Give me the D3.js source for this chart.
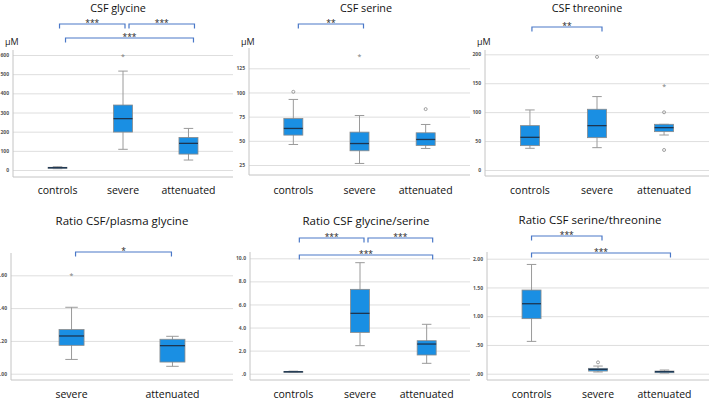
<html>
<head>
<script src="https://cdn.jsdelivr.net/npm/d3@7"></script>
<style>
body { margin: 0; background: white; }
text { font-family: "Open Sans", sans-serif; }
.gridlines line { stroke: #dedede; }
.gridlines .domain { stroke: none; }
.gridlines text { font-size: 5px; fill: #555; font-weight: bold; }
</style>
</head>
<body>
<svg id="chart" width="709" height="400"></svg>
<script>

// categories
const cats3 = ["controls", "severe", "attenuated"];
const cats2 = ["severe", "attenuated"];

// box stats per group: [min, q1, median, q3, max]
const glycineBoxes = [[7, 9, 12, 14, 17], [108, 198, 268, 339, 516], [52, 83, 139, 170, 217]];
const glycineOutliers = [["severe", 600, "*"]];
const glycineTicks = [0, 100, 200, 300, 400, 500, 600];

const serineBoxes = [[46.2, 55.9, 62.8, 73.1, 92.8], [26.6, 39.7, 47.2, 59, 76.2], [42.1, 45.2, 51.4, 58.3, 66.9]];
const serineOutliers = [["controls", 100.7, "o"], ["severe", 138.6, "*"], ["attenuated", 82.8, "o"]];
const serineTicks = [25, 50, 75, 100, 125];

const threonineBoxes = [[37.5, 42.1, 56.5, 76.7, 103.8], [38.6, 55.9, 76.7, 105, 126.9], [60.5, 66.3, 73.2, 79, 79]];
const threonineOutliers = [["severe", 195.5, "o"], ["attenuated", 145.3, "*"], ["attenuated", 99.8, "o"], ["attenuated", 34.6, "o"]];
const threonineTicks = [0, 50, 100, 150, 200];

const plasmaBoxes = [[0.087, 0.173, 0.23, 0.269, 0.405], [0.045, 0.071, 0.171, 0.21, 0.228]];
const plasmaOutliers = [["severe", 0.604, "*"]];
const plasmaTicks = [0, 0.2, 0.4, 0.6];

const glySerBoxes = [[0.12, 0.15, 0.17, 0.2, 0.22], [2.43, 3.58, 5.23, 7.31, 9.62], [0.9, 1.62, 2.57, 2.86, 4.28]];
const glySerOutliers = [];
const glySerTicks = [0, 2, 4, 6, 8, 10];

const serThrBoxes = [[0.562, 0.957, 1.217, 1.455, 1.9], [0.03, 0.046, 0.075, 0.093, 0.133], [0.012, 0.017, 0.035, 0.046, 0.064]];
const serThrOutliers = [["severe", 0.197, "o"]];
const serThrTicks = [0, 0.5, 1, 1.5, 2];

// significance brackets: [from, to, label]
const glycineSig = [["controls", "severe", "***"], ["severe", "attenuated", "***"], ["controls", "attenuated", "***"]];
const serineSig = [["controls", "severe", "**"]];
const threonineSig = [["controls", "severe", "**"]];
const plasmaSig = [["severe", "attenuated", "*"]];
const glySerSig = [["controls", "severe", "***"], ["severe", "attenuated", "***"], ["controls", "attenuated", "***"]];
const serThrSig = [["controls", "severe", "***"], ["controls", "attenuated", "***"]];

const noLead = f => d => d3.format(f)(d).replace(/^0\./, ".");

const panels = [
  {title: "CSF glycine", cats: cats3, boxes: glycineBoxes, outliers: glycineOutliers, ticks: glycineTicks, sig: glycineSig,
   fmt: d3.format("d"), unit: true, left: 13, right: 233, range: [170, 55], axisTop: 50, axisBottom: 177,
   titleX: 118, titleY: 11.5, catY: 194, pad: 0.68, sigY: [24, 24, 38], sigDx: [[2, 2], [6, 6], [8, 5]], boxW: 19},
  {title: "CSF serine", cats: cats3, boxes: serineBoxes, outliers: serineOutliers, ticks: serineTicks, sig: serineSig,
   fmt: d3.format("d"), unit: true, left: 249, right: 470, range: [165, 68.3], axisTop: 48, axisBottom: 175,
   titleX: 366, titleY: 11.5, catY: 194, pad: 0.67, sigY: [24], sigDx: [[5, 4]], boxW: 19},
  {title: "CSF threonine", cats: cats3, boxes: threonineBoxes, outliers: threonineOutliers, ticks: threonineTicks, sig: threonineSig,
   fmt: d3.format("d"), unit: true, left: 485, right: 709, range: [170, 54.3], axisTop: 50, axisBottom: 176,
   titleX: 587, titleY: 12, catY: 194, pad: 0.67, sigY: [27], sigDx: [[2, 5]], boxW: 19},
  {title: "Ratio CSF/plasma glycine", cats: cats2, boxes: plasmaBoxes, outliers: plasmaOutliers, ticks: plasmaTicks, sig: plasmaSig,
   fmt: noLead(".2f"), unit: false, left: 11, right: 233, range: [373.7, 275.3], axisTop: 253, axisBottom: 380,
   titleX: 122, titleY: 224.5, catY: 398, pad: 0.6, sigY: [252], sigDx: [[4, -1]], boxW: 25},
  {title: "Ratio CSF glycine/serine", cats: cats3, boxes: glySerBoxes, outliers: glySerOutliers, ticks: glySerTicks, sig: glySerSig,
   fmt: noLead(".1f"), unit: false, left: 250, right: 470, range: [373.7, 258.3], axisTop: 252, axisBottom: 380,
   titleX: 366, titleY: 224.5, catY: 398, pad: 0.65, sigY: [238, 238, 255], sigDx: [[6, 4], [8, 6], [6, 6]], boxW: 19},
  {title: "Ratio CSF serine/threonine", cats: cats3, boxes: serThrBoxes, outliers: serThrOutliers, ticks: serThrTicks, sig: serThrSig,
   fmt: noLead(".2f"), unit: false, left: 487, right: 709, range: [373.7, 258.7], axisTop: 252, axisBottom: 380,
   titleX: 590, titleY: 224, catY: 398, pad: 0.67, sigY: [236, 253], sigDx: [[0, 4], [0, 6]], boxW: 19}
];

const svg = d3.select("svg#chart");

panels.forEach(p => {
  const g = svg.append("g");

  const y = d3.scaleLinear().domain([p.ticks[0], p.ticks[p.ticks.length - 1]]).range(p.range);
  const x = d3.scalePoint().domain(p.cats).range([p.left, p.right]).padding(p.pad);

  //gridlines with tick labels
  const grid = d3.axisLeft(y).tickValues(p.ticks).tickFormat(p.fmt)
                 .tickSize(-(p.right - p.left)).tickPadding(4);
  g.append("g").attr("class", "gridlines")
     .attr("transform", `translate(${p.left},0)`)
     .call(grid);

  //axis lines
  g.append("line").attr("x1", p.left).attr("x2", p.left)
     .attr("y1", p.axisTop).attr("y2", p.axisBottom)
     .attr("stroke", "#c4c4c4");
  g.append("line").attr("x1", p.left).attr("x2", p.right)
     .attr("y1", p.axisBottom).attr("y2", p.axisBottom)
     .attr("stroke", "#c4c4c4");

  //title, unit and category labels
  g.append("text").attr("x", p.titleX).attr("y", p.titleY)
     .attr("text-anchor", "middle").attr("font-size", p.unit ? "10.8px" : "11.5px").attr("fill", "#111")
     .text(p.title);
  if (p.unit) {
    g.append("text").attr("x", p.left - 8).attr("y", 45)
       .attr("font-size", "9px").attr("fill", "#222").text("µM");
  }
  p.cats.forEach(c => {
    g.append("text").attr("x", x(c)).attr("y", p.catY)
       .attr("text-anchor", "middle").attr("font-size", "10.5px").attr("fill", "#111")
       .text(c);
  });

  //boxes
  const box = g.selectAll("g.box").data(p.boxes).enter().append("g").attr("class", "box");
  const cx = (d, i) => x(p.cats[i]);
  box.append("line")
     .attr("x1", cx).attr("x2", cx)
     .attr("y1", d => y(d[0])).attr("y2", d => y(d[4]))
     .attr("stroke", "#9a9a9a").attr("stroke-width", 1);
  [0, 4].forEach(k => {
    box.append("line")
       .attr("x1", (d, i) => cx(d, i) - p.boxW / 4).attr("x2", (d, i) => cx(d, i) + p.boxW / 4)
       .attr("y1", d => y(d[k])).attr("y2", d => y(d[k]))
       .attr("stroke", "#9a9a9a").attr("stroke-width", 1);
  });
  box.append("rect")
     .attr("x", (d, i) => cx(d, i) - p.boxW / 2).attr("width", p.boxW)
     .attr("y", d => y(d[3])).attr("height", d => Math.max(1, y(d[1]) - y(d[3])))
     .attr("fill", "#1a8fe3").attr("stroke", "#8a8a8a").attr("stroke-width", 0.8);
  box.append("line")
     .attr("x1", (d, i) => cx(d, i) - p.boxW / 2).attr("x2", (d, i) => cx(d, i) + p.boxW / 2)
     .attr("y1", d => y(d[2])).attr("y2", d => y(d[2]))
     .attr("stroke", "#1d3550").attr("stroke-width", 1.3);

  //outliers
  p.outliers.forEach(o => {
    if (o[2] == "o") {
      g.append("circle").attr("cx", x(o[0])).attr("cy", y(o[1])).attr("r", 1.5)
         .attr("fill", "none").attr("stroke", "#888").attr("stroke-width", 0.8);
    } else {
      g.append("text").attr("x", x(o[0])).attr("y", y(o[1]) + 3.5)
         .attr("text-anchor", "middle").attr("font-size", "7px").attr("fill", "#777")
         .text("*");
    }
  });

  //significance brackets
  p.sig.forEach((s, i) => {
    const x1 = x(s[0]) + p.sigDx[i][0], x2 = x(s[1]) + p.sigDx[i][1], yy = p.sigY[i];
    g.append("path")
       .attr("d", `M${x1},${yy + 4.5}V${yy}H${x2}V${yy + 4.5}`)
       .attr("fill", "none").attr("stroke", "#4a78c8").attr("stroke-width", 1.2);
    g.append("text").attr("x", (x1 + x2) / 2).attr("y", yy + 1.5)
       .attr("text-anchor", "middle").attr("font-size", "8.5px").attr("fill", "#222")
       .text(s[2]);
  });
});

</script>
</body>
</html>
